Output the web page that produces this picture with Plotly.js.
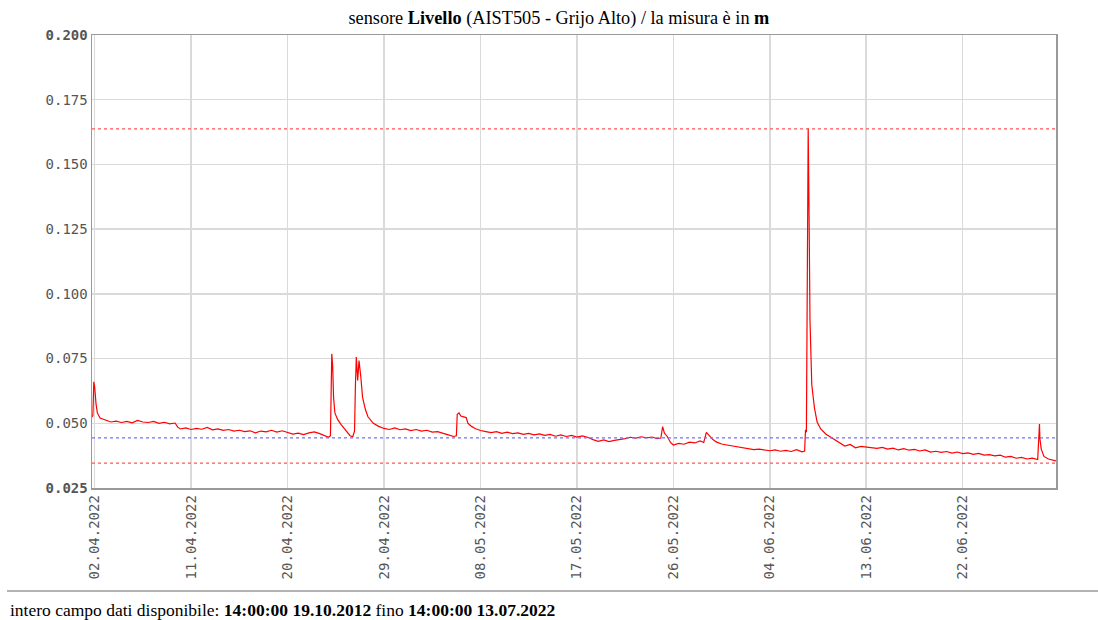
<!DOCTYPE html>
<html>
<head>
<meta charset="utf-8">
<script src="https://cdn.plot.ly/plotly-3.0.1.min.js"></script>
<style>
html,body{margin:0;padding:0;background:#fff;}
#chart{width:1098px;height:620px;}
</style>
</head>
<body>
<div id="chart"></div>
<script>
// ---- data ----
const timestamps = [
"2022-04-01 18:00","2022-04-01 20:00","2022-04-01 22:00","2022-04-02 00:00","2022-04-02 03:00","2022-04-02 06:00","2022-04-02 12:00",
"2022-04-03 00:00","2022-04-03 12:00","2022-04-04 00:00","2022-04-04 12:00","2022-04-05 00:00","2022-04-05 12:00",
"2022-04-06 00:00","2022-04-06 12:00","2022-04-07 00:00","2022-04-07 12:00","2022-04-08 00:00","2022-04-08 12:00",
"2022-04-09 00:00","2022-04-09 12:00","2022-04-09 18:00","2022-04-10 00:00","2022-04-10 12:00","2022-04-11 00:00","2022-04-11 12:00",
"2022-04-12 00:00","2022-04-12 12:00","2022-04-13 00:00","2022-04-13 12:00","2022-04-14 00:00","2022-04-14 12:00",
"2022-04-15 00:00","2022-04-15 12:00","2022-04-16 00:00","2022-04-16 12:00","2022-04-17 00:00","2022-04-17 12:00",
"2022-04-18 00:00","2022-04-18 12:00","2022-04-19 00:00","2022-04-19 12:00","2022-04-20 00:00","2022-04-20 12:00",
"2022-04-21 00:00","2022-04-21 12:00","2022-04-22 00:00","2022-04-22 12:00","2022-04-23 00:00","2022-04-23 12:00","2022-04-23 20:00",
"2022-04-24 00:00","2022-04-24 02:00","2022-04-24 03:00","2022-04-24 05:00","2022-04-24 07:00","2022-04-24 10:00","2022-04-24 16:00",
"2022-04-25 00:00","2022-04-25 12:00","2022-04-25 20:00","2022-04-26 02:00","2022-04-26 06:00","2022-04-26 08:00","2022-04-26 10:00",
"2022-04-26 13:00","2022-04-26 16:00","2022-04-26 20:00","2022-04-27 00:00","2022-04-27 06:00","2022-04-27 12:00",
"2022-04-28 00:00","2022-04-28 12:00","2022-04-29 00:00","2022-04-29 12:00","2022-04-30 00:00","2022-04-30 12:00",
"2022-05-01 00:00","2022-05-01 12:00","2022-05-02 00:00","2022-05-02 12:00","2022-05-03 00:00","2022-05-03 12:00",
"2022-05-04 00:00","2022-05-04 12:00","2022-05-05 00:00","2022-05-05 12:00","2022-05-05 18:00","2022-05-05 20:00",
"2022-05-06 00:00","2022-05-06 04:00","2022-05-06 10:00","2022-05-06 16:00","2022-05-06 20:00","2022-05-07 04:00","2022-05-07 12:00",
"2022-05-08 00:00","2022-05-08 12:00","2022-05-09 00:00","2022-05-09 12:00","2022-05-10 00:00","2022-05-10 12:00",
"2022-05-11 00:00","2022-05-11 12:00","2022-05-12 00:00","2022-05-12 12:00","2022-05-13 00:00","2022-05-13 12:00",
"2022-05-14 00:00","2022-05-14 12:00","2022-05-15 00:00","2022-05-15 12:00","2022-05-16 00:00","2022-05-16 12:00",
"2022-05-17 00:00","2022-05-17 12:00","2022-05-18 00:00","2022-05-18 12:00","2022-05-19 00:00","2022-05-19 12:00",
"2022-05-20 00:00","2022-05-20 12:00","2022-05-21 00:00","2022-05-21 12:00","2022-05-22 00:00","2022-05-22 12:00",
"2022-05-23 00:00","2022-05-23 12:00","2022-05-24 00:00","2022-05-24 12:00","2022-05-24 20:00","2022-05-25 00:00",
"2022-05-25 04:00","2022-05-25 10:00","2022-05-25 18:00","2022-05-26 00:00","2022-05-26 12:00","2022-05-27 00:00","2022-05-27 12:00",
"2022-05-28 00:00","2022-05-28 12:00","2022-05-28 20:00","2022-05-29 02:00","2022-05-29 08:00","2022-05-29 16:00",
"2022-05-30 00:00","2022-05-30 12:00","2022-05-31 00:00","2022-05-31 12:00","2022-06-01 00:00","2022-06-01 12:00",
"2022-06-02 00:00","2022-06-02 12:00","2022-06-03 00:00","2022-06-03 12:00","2022-06-04 00:00","2022-06-04 12:00",
"2022-06-05 00:00","2022-06-05 12:00","2022-06-06 00:00","2022-06-06 12:00","2022-06-07 00:00","2022-06-07 06:00",
"2022-06-07 08:00","2022-06-07 10:00","2022-06-07 12:00","2022-06-07 14:00","2022-06-07 16:00","2022-06-07 18:00","2022-06-07 22:00",
"2022-06-08 04:00","2022-06-08 10:00","2022-06-08 18:00","2022-06-09 06:00","2022-06-09 18:00","2022-06-10 00:00","2022-06-10 12:00",
"2022-06-11 00:00","2022-06-11 12:00","2022-06-12 00:00","2022-06-12 12:00","2022-06-13 00:00","2022-06-13 12:00",
"2022-06-14 00:00","2022-06-14 12:00","2022-06-15 00:00","2022-06-15 12:00","2022-06-16 00:00","2022-06-16 12:00",
"2022-06-17 00:00","2022-06-17 12:00","2022-06-18 00:00","2022-06-18 12:00","2022-06-19 00:00","2022-06-19 12:00",
"2022-06-20 00:00","2022-06-20 12:00","2022-06-21 00:00","2022-06-21 12:00","2022-06-22 00:00","2022-06-22 12:00",
"2022-06-23 00:00","2022-06-23 12:00","2022-06-24 00:00","2022-06-24 12:00","2022-06-25 00:00","2022-06-25 12:00",
"2022-06-26 00:00","2022-06-26 12:00","2022-06-27 00:00","2022-06-27 12:00","2022-06-28 00:00","2022-06-28 12:00",
"2022-06-29 00:00","2022-06-29 04:00","2022-06-29 05:00","2022-06-29 08:00","2022-06-29 14:00","2022-06-30 00:00","2022-06-30 12:00","2022-06-30 17:00"
];
const levelM = [
0.0525,0.0530,0.0660,0.0640,0.0575,0.0540,0.0520,
0.0512,0.0505,0.0508,0.0503,0.0507,0.0502,
0.0511,0.0505,0.0503,0.0507,0.0500,0.0504,
0.0498,0.0501,0.0485,0.0478,0.0482,0.0476,0.0480,
0.0477,0.0484,0.0475,0.0478,0.0473,0.0476,
0.0470,0.0473,0.0468,0.0471,0.0463,0.0470,
0.0467,0.0473,0.0466,0.0471,0.0465,0.0458,
0.0462,0.0456,0.0463,0.0467,0.0460,0.0450,0.0446,
0.0452,0.0700,0.0768,0.0720,0.0600,0.0540,0.0515,
0.0495,0.0470,0.0452,0.0448,0.0470,0.0650,0.0756,
0.0665,0.0742,0.0680,0.0600,0.0555,0.0525,
0.0500,0.0488,0.0480,0.0476,0.0482,0.0475,
0.0478,0.0472,0.0476,0.0470,0.0473,0.0466,
0.0468,0.0460,0.0455,0.0449,0.0452,0.0535,
0.0540,0.0528,0.0525,0.0522,0.0500,0.0488,0.0480,
0.0472,0.0468,0.0464,0.0468,0.0461,0.0466,
0.0460,0.0463,0.0457,0.0461,0.0455,0.0459,
0.0453,0.0457,0.0450,0.0455,0.0449,0.0453,
0.0447,0.0451,0.0446,0.0437,0.0430,0.0436,
0.0429,0.0434,0.0437,0.0441,0.0446,0.0443,
0.0448,0.0444,0.0447,0.0441,0.0443,0.0487,
0.0462,0.0450,0.0425,0.0416,0.0422,0.0419,0.0427,
0.0424,0.0432,0.0426,0.0465,0.0452,0.0438,
0.0428,0.0420,0.0416,0.0412,0.0408,0.0404,
0.0402,0.0398,0.0400,0.0396,0.0394,0.0397,
0.0392,0.0395,0.0391,0.0398,0.0390,0.0393,
0.0475,0.0465,0.1450,0.1640,0.1300,0.0900,0.0650,
0.0560,0.0505,0.0478,0.0458,0.0445,0.0436,0.0425,
0.0412,0.0418,0.0405,0.0411,0.0409,0.0406,
0.0403,0.0407,0.0400,0.0404,0.0397,0.0402,
0.0396,0.0399,0.0393,0.0397,0.0389,0.0392,
0.0388,0.0391,0.0385,0.0389,0.0383,0.0386,
0.0380,0.0384,0.0377,0.0379,0.0374,0.0377,
0.0369,0.0372,0.0365,0.0368,0.0362,0.0365,
0.0360,0.0497,0.0440,0.0400,0.0372,0.0362,0.0357,0.0355
];
const thresholdsRed = [0.1637, 0.0346];
const thresholdBlue = [0.0444];
const yTickVals = [0.025,0.05,0.075,0.1,0.125,0.15,0.175,0.2];
const yTickText = ["<b>0.025</b>","0.050","0.075","0.100","0.125","0.150","0.175","<b>0.200</b>"];
const xRange = ["2022-04-01 18:00","2022-06-30 17:00"];
const xTick0 = "2022-04-02";
const titleText = "sensore <b>Livello</b> (AIST505 - Grijo Alto) / la misura è in <b>m</b>";
const footerText = "intero campo dati disponibile: <b>14:00:00 19.10.2012</b> fino <b>14:00:00 13.07.2022</b>";

// ---- chart ----
const shapes = [];
thresholdsRed.forEach(v => shapes.push({type:"line", xref:"paper", yref:"y", x0:0, x1:1, y0:v, y1:v,
  line:{color:"#ff5555", width:1.2, dash:"3px,3px"}}));
thresholdBlue.forEach(v => shapes.push({type:"line", xref:"paper", yref:"y", x0:0, x1:1, y0:v, y1:v,
  line:{color:"#7070ff", width:1.2, dash:"3px,3px"}}));
shapes.push({type:"line", xref:"paper", yref:"paper", x0:-0.0882, x1:1.045, y0:-0.2274, y1:-0.2274,
  line:{color:"#999", width:1.5}});

const trace = {x: timestamps, y: levelM, type:"scatter", mode:"lines",
  line:{color:"#ff0000", width:1.2}, hoverinfo:"x+y"};

const layout = {
  width:1098, height:620,
  margin:{l:92, r:42, t:35, b:132},
  paper_bgcolor:"#fff", plot_bgcolor:"#fff",
  showlegend:false,
  title:{text:titleText, xref:"container", x:0.509, xanchor:"center", y:0.972, yanchor:"middle",
    font:{family:"Liberation Serif, Times New Roman, serif", size:18.3, color:"#000"}},
  xaxis:{type:"date", range:xRange, tick0:xTick0, dtick:9*86400000, tickformat:"%d.%m.%Y",
    tickangle:-90, showgrid:true, gridcolor:"#dadada", gridwidth:1.5,
    showline:true, mirror:true, linecolor:"#999", linewidth:1.5, ticks:"",
    tickfont:{family:"DejaVu Sans Mono, monospace", size:14, color:"#555"}, zeroline:false},
  yaxis:{range:[0.025,0.2], tickvals:yTickVals, ticktext:yTickText,
    showgrid:true, gridcolor:"#dadada", gridwidth:1.5,
    showline:true, mirror:true, linecolor:"#999", linewidth:1.5, ticks:"",
    tickfont:{family:"DejaVu Sans Mono, monospace", size:14, color:"#555"}, zeroline:false},
  shapes: shapes,
  annotations:[{text:footerText, xref:"paper", yref:"paper", x:-0.0871, y:-0.2693, xanchor:"left", yanchor:"middle",
    showarrow:false, font:{family:"Liberation Serif, Times New Roman, serif", size:17.5, color:"#000"}}]
};
Plotly.newPlot("chart", [trace], layout, {displayModeBar:false, staticPlot:true});
</script>
</body>
</html>
